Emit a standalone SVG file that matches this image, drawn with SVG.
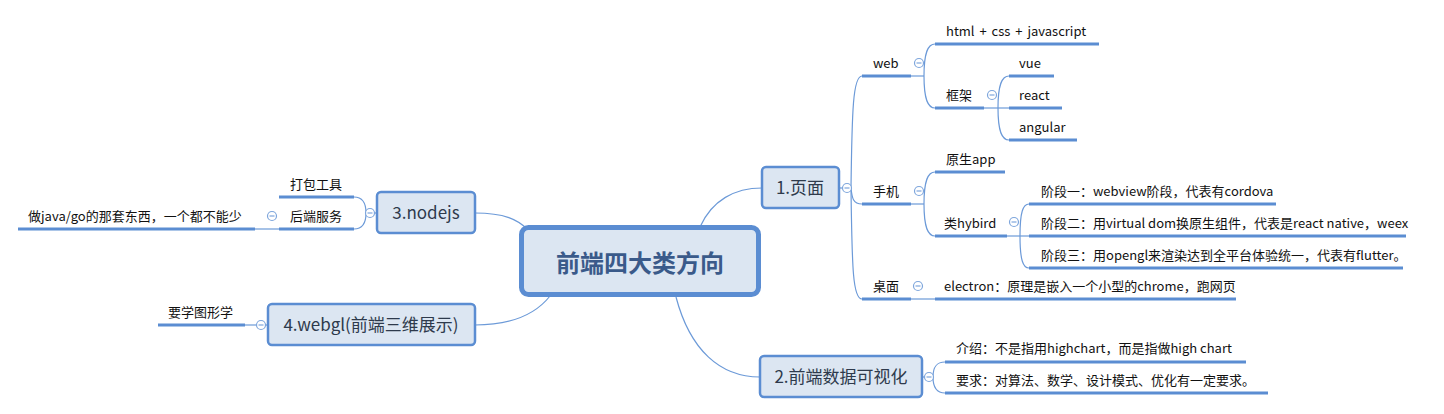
<svg xmlns="http://www.w3.org/2000/svg" width="1444" height="414" viewBox="0 0 1444 414">
<defs>
<style>
text{font-family:"Noto Sans CJK SC","Microsoft YaHei","Liberation Sans",sans-serif;}
.t{font-size:13px;fill:#111;}
.m{font-size:17px;fill:#2e3a4c;text-anchor:middle;}
.c{font-size:24px;font-weight:bold;fill:#3a5a8a;text-anchor:middle;}
.box{fill:#dce6f2;stroke:#5b8dd2;stroke-width:2.5;}
.ul{stroke:#5b8dd2;stroke-width:3;fill:none;}
.ln{stroke:#6c9ad8;stroke-width:1.2;fill:none;}
.col{fill:#fff;stroke:#7ea6dc;stroke-width:1.2;}
.cm{stroke:#7ea6dc;stroke-width:1.2;}
</style>
<g id="collapse">
<circle class="col" cx="0" cy="0" r="4.5"/>
<line class="cm" x1="-2.5" y1="0" x2="2.5" y2="0"/>
</g>
</defs>
<rect width="1444" height="414" fill="#fff"/>

<g id="connectors">
<path class="ln" d="M700,227 C712,200 735,188 762,188"/>
<path class="ln" d="M676,297 C690,350 720,377 760,377"/>
<path class="ln" d="M475,213 C505,213 518,220 527,229"/>
<path class="ln" d="M475,325 C510,325 535,315 550,296"/>
<path class="ln" d="M839,188 L851,188"/>
<path class="ln" d="M851,188 C852,110 853,76 862,76"/>
<path class="ln" d="M851,188 C852,198 853,204 862,204"/>
<path class="ln" d="M851,188 C852,270 853,299 862,299"/>
<path class="ln" d="M911,76 L924,76"/>
<path class="ln" d="M924,76 C924,52 928,44 935,44"/>
<path class="ln" d="M924,76 C924,100 928,108 935,108"/>
<path class="ln" d="M984,108 L1009,108"/>
<path class="ln" d="M998,108 C998,84 1002,76 1009,76"/>
<path class="ln" d="M998,108 C998,132 1002,140 1009,140"/>
<path class="ln" d="M911,204 L924,204"/>
<path class="ln" d="M924,204 C924,180 928,172 935,172"/>
<path class="ln" d="M924,204 C924,228 928,236 935,236"/>
<path class="ln" d="M1007,236 L1029,236"/>
<path class="ln" d="M1020,236 C1020,212 1023,204 1029,204"/>
<path class="ln" d="M1020,236 C1020,260 1023,268 1029,268"/>
<path class="ln" d="M911,299 L935,299"/>
<path class="ln" d="M922,377 L933,377"/>
<path class="ln" d="M933,377 C933,366 937,362 945,362"/>
<path class="ln" d="M933,377 C933,388 937,393 945,393"/>
<path class="ln" d="M377,213 L366,213"/>
<path class="ln" d="M366,213 C366,202 362,197 354,197"/>
<path class="ln" d="M366,213 C366,224 362,229 354,229"/>
<path class="ln" d="M279,229 L255,229"/>
<path class="ln" d="M268,325 L245,325"/>
</g>

<g id="central">
<rect x="521.5" y="227.5" width="237" height="67" rx="7" fill="#dce6f2" stroke="#5b8dd2" stroke-width="5"/>
<text class="c" x="640" y="272">前端四大类方向</text>
</g>

<g id="n1">
<rect class="box" x="762" y="167" width="77" height="41" rx="4"/>
<text class="m" x="800" y="194">1.页面</text>
<use href="#collapse" x="847" y="188"/>
</g>
<g id="n1-web">
<line class="ul" x1="862" y1="76" x2="911" y2="76"/>
<text class="t" x="873" y="68">web</text>
<use href="#collapse" x="919" y="63"/>
</g>
<g id="n1-web-html">
<line class="ul" x1="935" y1="44" x2="1099" y2="44"/>
<text class="t" x="946" y="36" word-spacing="2">html + css + javascript</text>
</g>
<g id="n1-web-frame">
<line class="ul" x1="935" y1="108" x2="984" y2="108"/>
<text class="t" x="946" y="100">框架</text>
<use href="#collapse" x="992" y="95"/>
</g>
<g id="n1-vue">
<line class="ul" x1="1009" y1="76" x2="1054" y2="76"/>
<text class="t" x="1019" y="68">vue</text>
</g>
<g id="n1-react">
<line class="ul" x1="1009" y1="108" x2="1062" y2="108"/>
<text class="t" x="1019" y="100">react</text>
</g>
<g id="n1-angular">
<line class="ul" x1="1009" y1="140" x2="1077" y2="140"/>
<text class="t" x="1019" y="132">angular</text>
</g>
<g id="n1-mobile">
<line class="ul" x1="862" y1="204" x2="911" y2="204"/>
<text class="t" x="873" y="196">手机</text>
<use href="#collapse" x="919" y="191"/>
</g>
<g id="n1-native">
<line class="ul" x1="935" y1="172" x2="1005" y2="172"/>
<text class="t" x="946" y="164">原生app</text>
</g>
<g id="n1-hybird">
<line class="ul" x1="935" y1="236" x2="1007" y2="236"/>
<text class="t" x="944" y="228">类hybird</text>
<use href="#collapse" x="1014" y="222"/>
</g>
<g id="n1-stage1">
<line class="ul" x1="1029" y1="204" x2="1276" y2="204"/>
<text class="t" x="1041" y="196">阶段一：webview阶段，代表有cordova</text>
</g>
<g id="n1-stage2">
<line class="ul" x1="1029" y1="236" x2="1406" y2="236"/>
<text class="t" x="1041" y="228">阶段二：用virtual dom换原生组件，代表是react native，weex</text>
</g>
<g id="n1-stage3">
<line class="ul" x1="1029" y1="268" x2="1403" y2="268"/>
<text class="t" x="1041" y="260">阶段三：用opengl来渲染达到全平台体验统一，代表有flutter。</text>
</g>
<g id="n1-desktop">
<line class="ul" x1="862" y1="299" x2="911" y2="299"/>
<text class="t" x="873" y="291">桌面</text>
<use href="#collapse" x="918" y="286"/>
</g>
<g id="n1-electron">
<line class="ul" x1="935" y1="299" x2="1236" y2="299"/>
<text class="t" x="944" y="291">electron：原理是嵌入一个小型的chrome，跑网页</text>
</g>

<g id="n2">
<rect class="box" x="760" y="356" width="162" height="41" rx="4"/>
<text class="m" x="841" y="383">2.前端数据可视化</text>
<use href="#collapse" x="929" y="377"/>
</g>
<g id="n2-intro">
<line class="ul" x1="945" y1="362" x2="1246" y2="362"/>
<text class="t" x="956" y="353">介绍：不是指用highchart，而是指做high chart</text>
</g>
<g id="n2-req">
<line class="ul" x1="945" y1="393" x2="1268" y2="393"/>
<text class="t" x="956" y="385">要求：对算法、数学、设计模式、优化有一定要求。</text>
</g>

<g id="n3">
<rect class="box" x="377" y="192" width="98" height="41" rx="4"/>
<text class="m" x="426" y="219">3.nodejs</text>
<use href="#collapse" x="370" y="213"/>
</g>
<g id="n3-pack">
<line class="ul" x1="279" y1="197" x2="354" y2="197"/>
<text class="t" x="316" y="189" text-anchor="middle">打包工具</text>
</g>
<g id="n3-backend">
<line class="ul" x1="279" y1="229" x2="354" y2="229"/>
<text class="t" x="316" y="221" text-anchor="middle">后端服务</text>
<use href="#collapse" x="272" y="216"/>
</g>
<g id="n3-java">
<line class="ul" x1="18" y1="229" x2="255" y2="229"/>
<text class="t" x="28" y="221">做java/go的那套东西，一个都不能少</text>
</g>

<g id="n4">
<rect class="box" x="268" y="304" width="207" height="41" rx="4"/>
<text class="m" x="371" y="331">4.webgl(前端三维展示)</text>
<use href="#collapse" x="261" y="325"/>
</g>
<g id="n4-graphics">
<line class="ul" x1="158" y1="325" x2="245" y2="325"/>
<text class="t" x="168" y="317">要学图形学</text>
</g>
</svg>
